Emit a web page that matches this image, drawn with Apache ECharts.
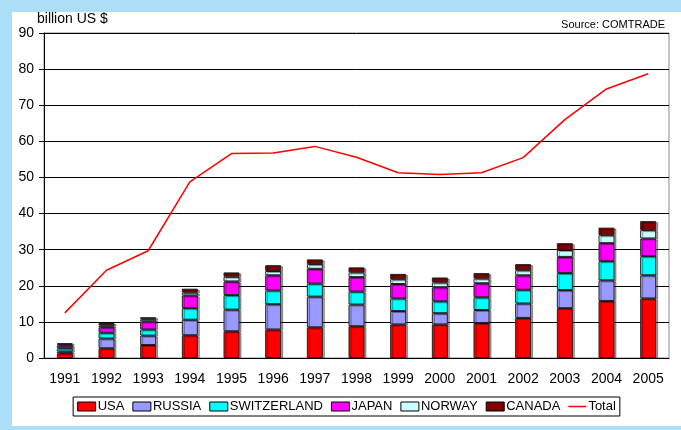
<!DOCTYPE html>
<html>
<head>
<meta charset="utf-8">
<script src="https://cdn.jsdelivr.net/npm/echarts@6/dist/echarts.min.js"></script>
<style>
  html, body { margin: 0; padding: 0; }
  body { width: 681px; height: 430px; background: #abdff7; position: relative; overflow: hidden; }
  #chart { position: absolute; left: 12px; top: 12px; width: 669px; height: 414px; background: #fff; }
</style>
</head>
<body>
<div id="chart"></div>
<script>
var years = ['1991', '1992', '1993', '1994', '1995', '1996', '1997', '1998', '1999', '2000', '2001', '2002', '2003', '2004', '2005'];
var usa = [1.3, 2.7, 3.6, 6.3, 7.4, 7.9, 8.5, 8.8, 9.3, 9.3, 9.7, 11.1, 13.8, 15.8, 16.5];
var russia = [0.5, 2.7, 2.6, 4.3, 6.0, 7.0, 8.5, 6.0, 3.7, 3.1, 3.6, 4.0, 5.0, 5.7, 6.4];
var switzerland = [0.9, 1.6, 1.7, 3.2, 4.0, 3.8, 3.6, 3.6, 3.5, 3.3, 3.5, 3.8, 4.7, 5.3, 5.3];
var japan = [0.8, 1.5, 2.2, 3.5, 3.8, 4.2, 4.1, 4.0, 4.0, 3.9, 3.9, 4.0, 4.5, 5.0, 4.9];
var norway = [0.3, 0.5, 0.6, 0.8, 1.3, 1.2, 1.3, 1.3, 1.3, 1.3, 1.3, 1.4, 1.9, 2.2, 2.3];
var canada = [0.3, 0.7, 0.6, 1.1, 1.2, 1.6, 1.3, 1.4, 1.5, 1.4, 1.5, 1.7, 1.9, 2.1, 2.5];
var total = [12.5, 24.3, 29.7, 48.8, 56.6, 56.8, 58.6, 55.6, 51.3, 50.8, 51.3, 55.5, 66.0, 74.5, 78.7];

var font = 'Liberation Sans, Arial, sans-serif';

function barSeries(name, data, color) {
	return {
		name: name,
		type: 'bar',
		stack: 'c',
		data: data,
		barWidth: 16,
		itemStyle: {
			color: color,
			borderColor: '#222',
			borderWidth: 1,
			shadowColor: 'rgba(0,0,0,0.35)',
			shadowOffsetX: 2,
			shadowOffsetY: 1
		}
	};
}

// thin line icon for the Total entry (tiny corner marks keep the 2:1 box)
var lineIcon = 'path://M0,0L0.002,0L0.002,0.002ZM0,0.42L2,0.42L2,0.58L0,0.58ZM2,1L1.998,1L1.998,0.998Z';
var names = ['USA', 'RUSSIA', 'SWITZERLAND', 'JAPAN', 'NORWAY', 'CANADA'];
var legendData = names.map(function(n) {
	return { name: n, icon: 'rect', itemStyle: { borderColor: '#000', borderWidth: 1, shadowBlur: 0, shadowOffsetX: 0, shadowOffsetY: 0 } };
});
legendData.push({ name: 'Total', icon: lineIcon, itemStyle: { color: '#ff0000', borderWidth: 0 } });

var myChart = echarts.init(document.getElementById('chart'));
myChart.setOption({
	animation: false,
	textStyle: { fontFamily: font },
	grid: {
		left: 32, right: 12, top: 21, bottom: 68,
		show: true, borderColor: '#8a8a8a', borderWidth: 1
	},
	graphic: [
		{ type: 'text', left: 25, top: 0, style: { text: 'billion US $', fontSize: 14, fontFamily: font, fill: '#000' } },
		{ type: 'text', right: 16, top: 7, style: { text: 'Source: COMTRADE', fontSize: 11, fontFamily: font, fill: '#000' } }
	],
	legend: {
		bottom: 10,
		left: 'center',
		itemWidth: 18,
		itemHeight: 9,
		itemGap: 8,
		padding: [3, 4, 3, 4],
		borderColor: '#000',
		borderWidth: 1,
		textStyle: { fontSize: 13, color: '#000', padding: [0, 0, 0, -3] },
		data: legendData
	},
	xAxis: {
		type: 'category',
		data: years,
		axisLine: { lineStyle: { color: '#000' } },
		axisTick: { length: 5, lineStyle: { color: '#000' } },
		axisLabel: { fontSize: 14, color: '#000', margin: 14 }
	},
	yAxis: {
		type: 'value',
		min: 0, max: 90, interval: 10,
		axisLine: { show: true, lineStyle: { color: '#000' } },
		axisTick: { show: true, length: 5, lineStyle: { color: '#000' } },
		axisLabel: { fontSize: 14, color: '#000', margin: 10 },
		splitLine: { lineStyle: { color: '#000', width: 1 } }
	},
	series: [
		barSeries('USA', usa, '#ff0000'),
		barSeries('RUSSIA', russia, '#9999ff'),
		barSeries('SWITZERLAND', switzerland, '#00ffff'),
		barSeries('JAPAN', japan, '#ff00ff'),
		barSeries('NORWAY', norway, '#ccffff'),
		barSeries('CANADA', canada, '#800000'),
		{
			name: 'Total',
			type: 'line',
			data: total,
			symbol: 'none',
			lineStyle: { color: '#ff0000', width: 1.5 },
			itemStyle: { color: '#ff0000' }
		}
	]
});
</script>
</body>
</html>
